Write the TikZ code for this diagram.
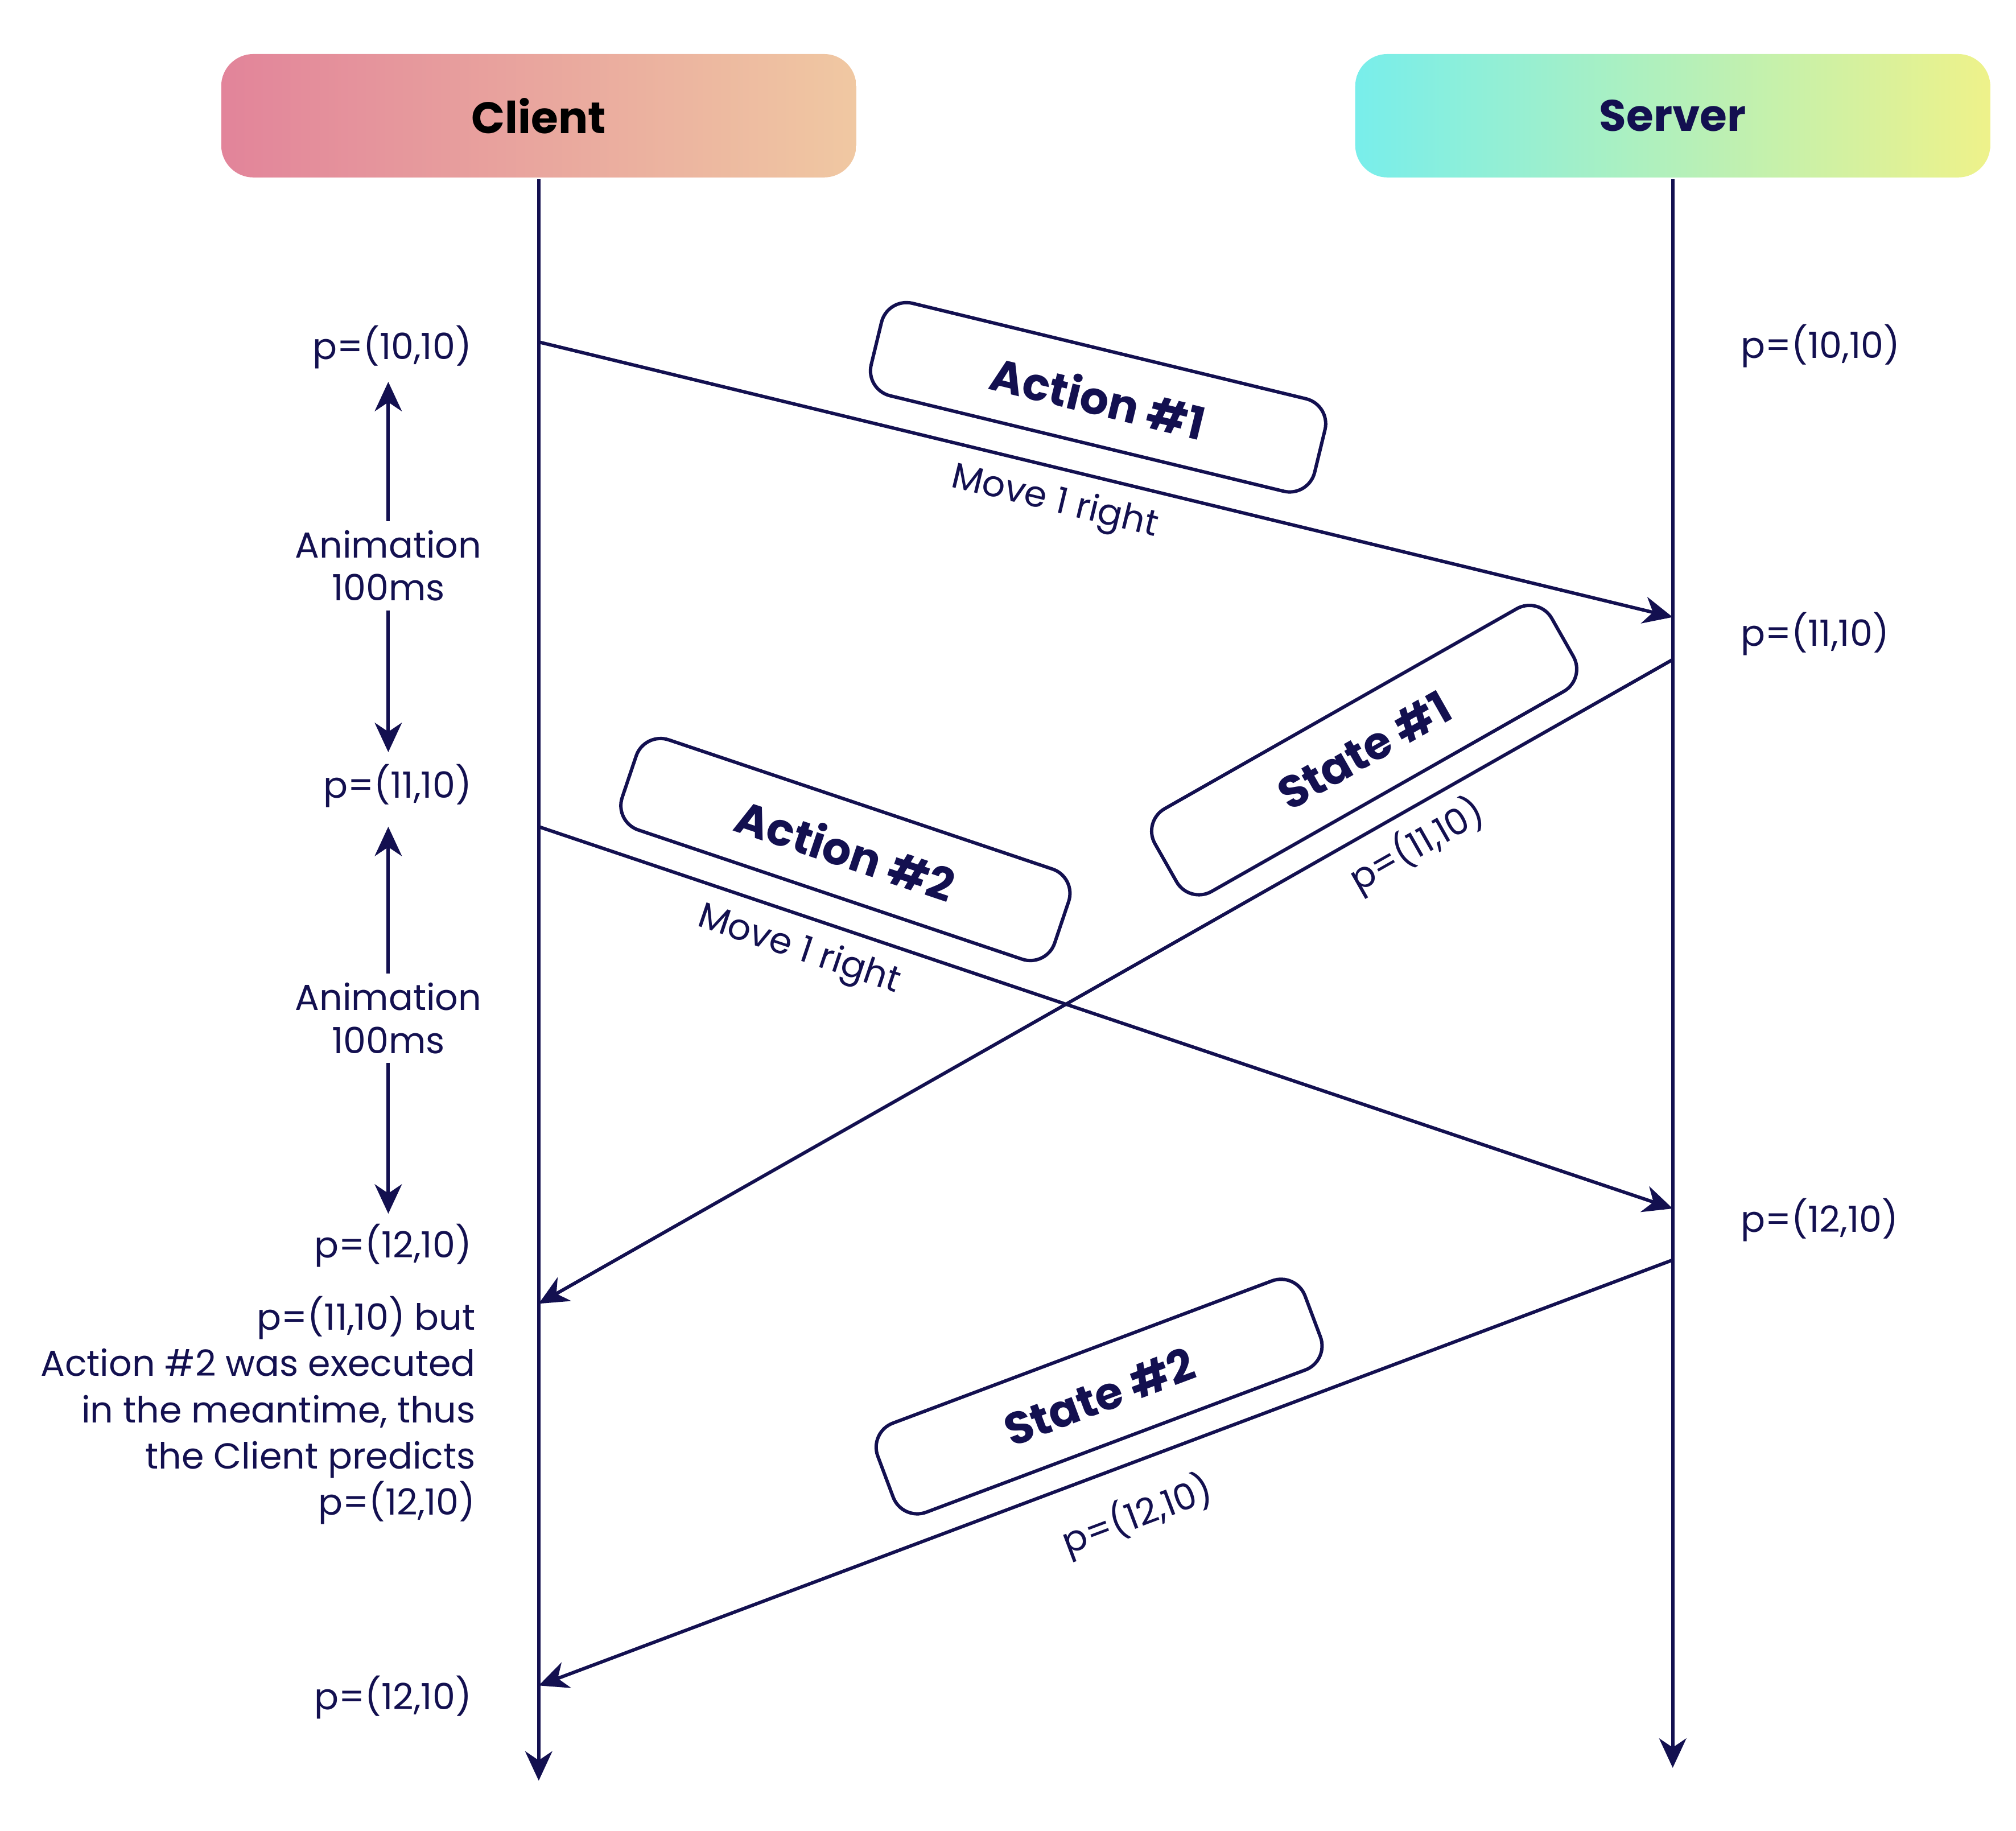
\documentclass[tikz,border=0pt]{standalone}
\usepackage{fontspec}
\setmainfont{Poppins}
\usepackage{xcolor}
\usepackage{tikz}
\usetikzlibrary{arrows.meta,positioning}
\definecolor{navy}{RGB}{19,16,80}
\definecolor{clientL}{RGB}{226,132,154}
\definecolor{clientR}{RGB}{240,200,162}
\definecolor{serverL}{RGB}{120,238,235}
\definecolor{serverR}{RGB}{238,242,138}
\tikzset{>={Stealth[length=13pt,width=12pt,inset=4pt]}}
\tikzstyle{head}=[rounded corners=0.5cm, minimum width=9.88cm, minimum height=1.92cm, font=\bfseries\fontsize{19.5}{24}\selectfont]
\tikzstyle{msgbox}=[draw, rounded corners=0.4cm, minimum width=7.1cm, minimum height=1.48cm, font=\bfseries\fontsize{20}{24}\selectfont]
\tikzstyle{msglabel}=[font=\fontsize{16}{20}\selectfont]
\tikzstyle{plabel}=[font=\fontsize{16}{20.5}\selectfont]

\begin{document}
\begin{tikzpicture}[x=0.02cm, y=-0.02cm, line width=1.5pt, color=navy]
			\useasboundingbox (0,0) rectangle (1568,1424);
			
			% Heads
			\node[head, left color=clientL, right color=clientR, text=black] (client) at (419,90) {Client};
			\node[head, left color=serverL, right color=serverR, text=navy] (server) at (1301,90) {Server};
			
			% Lifelines
			\coordinate (cend) at (419,1385);
			\coordinate (send) at (1301,1375);
			\draw[->] (client) -- (cend);
			\draw[->] (server) -- (send);
			
			% Message ends
			\coordinate (c1) at (419,266);
			\coordinate (s1) at (1301,480);
			\coordinate (c2) at (419,643);
			\coordinate (s2) at (1301,940);
			\coordinate (s3) at (1301,513);
			\coordinate (c3) at (419,1014);
			\coordinate (s4) at (1301,980);
			\coordinate (c4) at (419,1311);
			
			% Messages
			\draw[->] (c1) -- node[pos=0.477, sloped, above=0.45cm, msgbox] (act1) {Action \#1}
				node[pos=0.462, sloped, below=3pt, msglabel] (mv1) {Move 1 right} (s1);
			\draw[->] (c2) -- node[pos=0.249, sloped, above=0.42cm, msgbox] (act2) {Action \#2}
				node[pos=0.239, sloped, below=3pt, msglabel] (mv2) {Move 1 right} (s2);
			\draw[->] (s3) -- node[pos=0.240, sloped, above=0.38cm, msgbox] (st1) {State \#1}
				node[pos=0.241, sloped, below=2pt, msglabel] (pst1) {p=(11,10)} (c3);
			\draw[->] (s4) -- node[pos=0.483, sloped, above=0.38cm, msgbox] (st2) {State \#2}
				node[pos=0.488, sloped, below=9pt, msglabel] (pst2) {p=(12,10)} (c4);
			
			% Client positions
			\node[plabel, anchor=east] (cp1) at (374,270) {p=(10,10)};
			\node[plabel, anchor=east] (cp2) at (374,611) {p=(11,10)};
			\node[plabel, anchor=east] (cp3) at (374,969) {p=(12,10)};
			\node[plabel, anchor=east, align=right] (cnote) at (377,1097) {p=(11,10) but\\Action \#2 was executed\\in the meantime, thus\\the Client predicts\\p=(12,10)};
			\node[plabel, anchor=east] (cp4) at (374,1320) {p=(12,10)};
			
			% Server positions
			\node[plabel, anchor=west] (sp1) at (1347,269) {p=(10,10)};
			\node[plabel, anchor=west] (sp2) at (1347,493) {p=(11,10)};
			\node[plabel, anchor=west] (sp3) at (1347,949) {p=(12,10)};
			
			% Animations
			\node[plabel, align=center, font=\fontsize{16}{19}\selectfont] (anim1) at (302,440) {Animation\\100ms};
			\node[plabel, align=center, font=\fontsize{16}{19}\selectfont] (anim2) at (302,792) {Animation\\100ms};
			\coordinate (a1top) at (302,297);
			\coordinate (a1bot) at (302,585);
			\coordinate (a2top) at (302,643);
			\coordinate (a2bot) at (302,944);
			\draw[->] (anim1) -- (a1top);
			\draw[->] (anim1) -- (a1bot);
			\draw[->] (anim2) -- (a2top);
			\draw[->] (anim2) -- (a2bot);
		\end{tikzpicture}
\end{document}
